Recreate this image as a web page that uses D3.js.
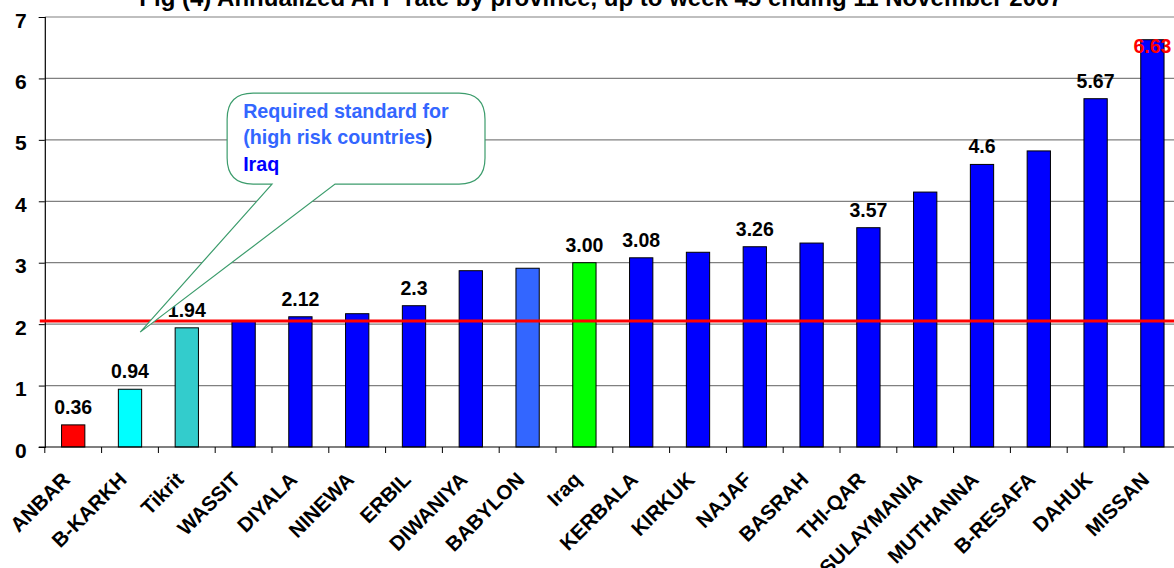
<!DOCTYPE html>
<html>
<head>
<meta charset="utf-8">
<script src="https://cdn.jsdelivr.net/npm/d3@7"></script>
<style>
  body { margin: 0; background: #fff; }
  text { font-family: Arial, "Liberation Sans", sans-serif; font-weight: bold; }
</style>
</head>
<body>
<div id="chart"></div>
<script>
const provinces = ["ANBAR", "B-KARKH", "Tikrit", "WASSIT", "DIYALA", "NINEWA", "ERBIL", "DIWANIYA", "BABYLON", "Iraq",
  "KERBALA", "KIRKUK", "NAJAF", "BASRAH", "THI-QAR", "SULAYMANIA", "MUTHANNA", "B-RESAFA", "DAHUK", "MISSAN"];
const rates = [0.36, 0.94, 1.94, 2.05, 2.12, 2.17, 2.3, 2.87, 2.91, 3.00,
  3.08, 3.17, 3.26, 3.32, 3.57, 4.15, 4.6, 4.82, 5.67, 6.63];
const rateLabels = ["0.36", "0.94", "1.94", null, "2.12", null, "2.3", null, null, "3.00",
  "3.08", null, "3.26", null, "3.57", null, "4.6", null, "5.67", "6.63"];
const barColors = ["#ff0000", "#00ffff", "#33cccc", "#0000ff", "#0000ff", "#0000ff", "#0000ff", "#0000ff", "#3366ff", "#00ff00",
  "#0000ff", "#0000ff", "#0000ff", "#0000ff", "#0000ff", "#0000ff", "#0000ff", "#0000ff", "#0000ff", "#0000ff"];
const yTicks = [0, 1, 2, 3, 4, 5, 6, 7];
const standard = 2.05;
const title = "Fig (4) Annualized AFP rate by province,  up to week 45 ending 11 November 2007";

const width = 1174, height = 568;
const margin = { top: 17, left: 44.8, bottom: 121 };

const svg = d3.select("#chart").append("svg")
  .attr("width", width)
  .attr("height", height);

const x = d3.scaleBand()
  .domain(provinces)
  .range([margin.left, margin.left + 56.8 * provinces.length])
  .paddingInner(0.59)
  .paddingOuter(0.295);

const y = d3.scaleLinear()
  .domain([0, 7])
  .range([height - margin.bottom, margin.top]);

const step = x.step();
const x0 = x.range()[0];

// gridlines
svg.append("g")
  .selectAll("line")
  .data(yTicks.filter(d => d > 0))
  .join("line")
  .attr("x1", x0)
  .attr("x2", width)
  .attr("y1", d => y(d))
  .attr("y2", d => y(d))
  .attr("stroke", "#808080")
  .attr("stroke-width", 1.2);

// bars
svg.append("g")
  .selectAll("rect")
  .data(provinces)
  .join("rect")
  .attr("x", d => x(d))
  .attr("y", (d, i) => y(rates[i]))
  .attr("width", x.bandwidth())
  .attr("height", (d, i) => y(0) - y(rates[i]))
  .attr("fill", (d, i) => barColors[i])
  .attr("stroke", "#000")
  .attr("stroke-width", 1);

// y axis
const yAxis = svg.append("g")
  .attr("transform", `translate(${x0},0)`)
  .call(d3.axisLeft(y).tickValues(yTicks).tickSize(6).tickPadding(12).tickFormat(d3.format("d")));
yAxis.select(".domain").attr("stroke", "#000").attr("stroke-width", 1.2);
yAxis.selectAll("line").attr("stroke", "#000");
yAxis.selectAll("text")
  .attr("dy", "0.48em")
  .style("font-size", "21px")
  .attr("fill", "#000");

// x axis line and ticks at category boundaries
svg.append("line")
  .attr("x1", x0 - 6)
  .attr("x2", width)
  .attr("y1", y(0))
  .attr("y2", y(0))
  .attr("stroke", "#000")
  .attr("stroke-width", 1.2);

svg.append("g")
  .selectAll("line")
  .data(d3.range(provinces.length + 1))
  .join("line")
  .attr("x1", i => x0 + i * step)
  .attr("x2", i => x0 + i * step)
  .attr("y1", y(0))
  .attr("y2", y(0) + 6)
  .attr("stroke", "#000");

// rotated category labels
svg.append("g")
  .selectAll("text")
  .data(provinces)
  .join("text")
  .attr("transform", d => `translate(${x(d) + x.bandwidth() / 2 - 2}, ${y(0) + 34}) rotate(-45)`)
  .attr("text-anchor", "end")
  .style("font-size", "20.5px")
  .text(d => d);

// value labels
svg.append("g")
  .selectAll("text")
  .data(provinces)
  .join("text")
  .attr("x", d => x(d) + x.bandwidth() / 2)
  .attr("y", (d, i) => Math.max(y(rates[i]) - 11, y(7) + 36))
  .attr("text-anchor", "middle")
  .style("font-size", "19.5px")
  .attr("fill", (d, i) => i === provinces.length - 1 ? "#ff0000" : "#000")
  .text((d, i) => rateLabels[i]);

// standard line
svg.append("line")
  .attr("x1", x0 - 5)
  .attr("x2", width)
  .attr("y1", y(standard))
  .attr("y2", y(standard))
  .attr("stroke", "#ff0000")
  .attr("stroke-width", 3);

// callout
const bl = x0 + 3.21 * step, br = x0 + 7.75 * step;
const bt = y(5.76), bb = y(4.28);
const p1 = x0 + 4.0 * step, p2 = x0 + 5.11 * step;
const tipX = x0 + 1.68 * step, tipY = y(1.87);
const r = 26;
const path = d3.path();
path.moveTo(bl + r, bt);
path.lineTo(br - r, bt);
path.quadraticCurveTo(br, bt, br, bt + r);
path.lineTo(br, bb - r);
path.quadraticCurveTo(br, bb, br - r, bb);
path.lineTo(p2, bb);
path.lineTo(tipX, tipY);
path.lineTo(p1, bb);
path.lineTo(bl + r, bb);
path.quadraticCurveTo(bl, bb, bl, bb - r);
path.lineTo(bl, bt + r);
path.quadraticCurveTo(bl, bt, bl + r, bt);
path.closePath();

svg.append("path")
  .attr("d", path.toString())
  .attr("fill", "#fff")
  .attr("stroke", "#3c9c6c")
  .attr("stroke-width", 1.2);

const note = svg.append("text")
  .attr("x", bl + 16)
  .attr("y", bt + 25)
  .style("font-size", "19.7px");
note.append("tspan").attr("fill", "#3366ff").text("Required standard for");
note.append("tspan").attr("x", bl + 16).attr("dy", 25.5).attr("fill", "#3366ff").text("(high risk countries");
note.append("tspan").attr("fill", "#000").text(")");
note.append("tspan").attr("x", bl + 16).attr("dy", 27).attr("fill", "#0000ff").text("Iraq");

// title (clipped at the top as in the original)
svg.append("text")
  .attr("x", 601)
  .attr("y", 5.5)
  .attr("text-anchor", "middle")
  .style("font-size", "24px")
  .text(title);
</script>
</body>
</html>
